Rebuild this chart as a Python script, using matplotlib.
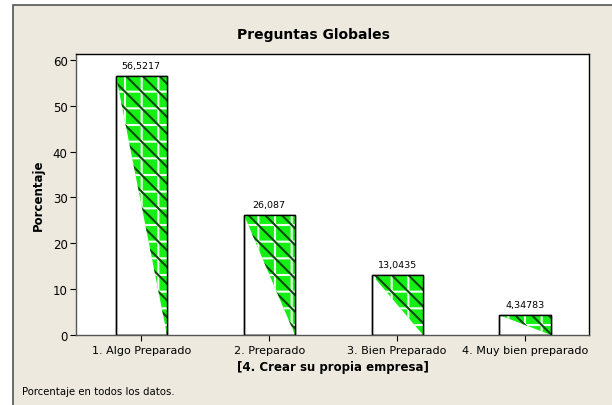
import matplotlib
matplotlib.use("Agg")
import matplotlib.pyplot as plt
from matplotlib.patches import Rectangle, Polygon

plt.rcParams["font.family"] = "DejaVu Sans"
plt.rcParams["hatch.linewidth"] = 1.5

categories = ["1. Algo Preparado", "2. Preparado", "3. Bien Preparado", "4. Muy bien preparado"]
percentages = [56.5217, 26.087, 13.0435, 4.34783]
value_labels = ["56,5217", "26,087", "13,0435", "4,34783"]
yticks = [0, 10, 20, 30, 40, 50, 60]

W, H = 612, 406
fig = plt.figure(figsize=(W / 100, H / 100), dpi=100, facecolor="white")

# beige panel with the left/top border like the Minitab graph window
fig.patches.append(Rectangle((12.5 / W, -0.1), 1.1, 1.1 - 5.5 / H, transform=fig.transFigure,
                             facecolor="#EDE9DF", edgecolor="#555555", linewidth=1.2, zorder=-5))

ax = fig.add_axes([76 / W, 1 - 336 / H, (589 - 76) / W, (336 - 55) / H])
ax.set_zorder(2)
ax.set_facecolor("white")

bw = 0.4
xs = list(range(len(categories)))
ax.bar(xs, percentages, width=bw, color="white", edgecolor="black", linewidth=1.0, zorder=2)

for x, h, lab in zip(xs, percentages, value_labels):
    tri = [(x - bw / 2, h), (x + bw / 2, h), (x + bw / 2, 0)]
    ax.add_patch(Polygon(tri, closed=True, facecolor="#14F014", edgecolor="#F4FFF4",
                         linewidth=0, hatch="+", zorder=3))
    ax.add_patch(Polygon(tri, closed=True, facecolor="none", edgecolor="#0A4A0A",
                         linewidth=0, hatch="\\\\", zorder=4))
    # redraw the bar outline on top of the fill
    ax.add_patch(Rectangle((x - bw / 2, 0), bw, h, facecolor="none", edgecolor="black",
                           linewidth=1.0, zorder=5))
    ax.annotate(lab, (x, h), xytext=(0, 4.5), textcoords="offset points",
                ha="center", va="bottom", fontsize=6.8)

ax.set_xlim(-0.51, 3.5)
ax.set_ylim(0, 61.3)
ax.set_xticks(xs)
ax.set_xticklabels(categories, fontsize=8)
ax.set_yticks(yticks)
ax.tick_params(axis="y", labelsize=8.5, length=4, direction="out", pad=2)
ax.tick_params(axis="x", length=4, direction="out", pad=3)
for s in ax.spines.values():
    s.set_linewidth(1.0)
ax.spines["left"].set_color("#555555")
ax.spines["bottom"].set_color("#555555")

ax.set_xlabel("[4. Crear su propia empresa]", fontsize=8.5, fontweight="bold", labelpad=4)
ax.set_ylabel("Porcentaje", fontsize=8.5, fontweight="bold", labelpad=6)

fig.text(313 / W, 1 - 35 / H, "Preguntas Globales", ha="center", va="center",
         fontsize=10, fontweight="bold")
fig.text(22 / W, 1 - 392 / H, "Porcentaje en todos los datos.", ha="left", va="center",
         fontsize=7.3)

fig.savefig("out.png", dpi=100, facecolor=fig.get_facecolor())
